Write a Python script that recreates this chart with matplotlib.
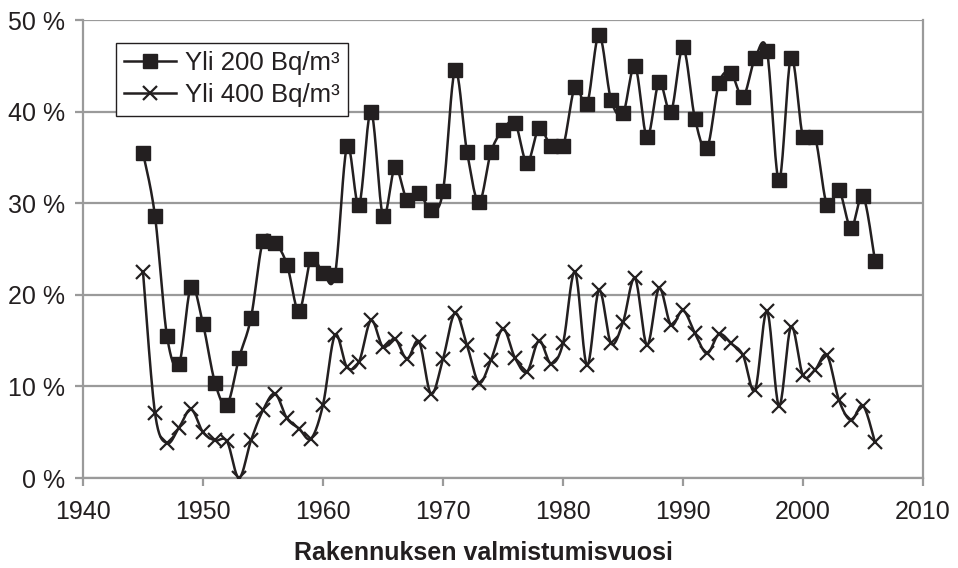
import numpy as np
import matplotlib
matplotlib.use("Agg")
import matplotlib.pyplot as plt
from matplotlib.lines import Line2D

years = list(range(1945, 2007))
over_200 = [35.5, 28.6, 15.5, 12.4, 20.9, 16.8, 10.4, 8.0, 13.1, 17.5,
            25.9, 25.7, 23.3, 18.2, 23.9, 22.4, 22.2, 36.2, 29.8, 40.0,
            28.6, 33.9, 30.4, 31.1, 29.3, 31.3, 44.5, 35.6, 30.1, 35.6,
            38.0, 38.8, 34.4, 38.2, 36.2, 36.2, 42.7, 40.8, 48.4, 41.3,
            39.8, 45.0, 37.2, 43.2, 40.0, 47.0, 39.2, 36.0, 43.1, 44.2,
            41.6, 45.8, 46.6, 32.5, 45.9, 37.2, 37.2, 29.8, 31.4, 27.3,
            30.8, 23.7]
over_400 = [22.5, 7.1, 3.8, 5.5, 7.5, 5.0, 4.1, 4.0, 0.0, 4.1,
            7.4, 9.2, 6.5, 5.4, 4.3, 8.0, 15.6, 12.1, 12.7, 17.2,
            14.3, 15.2, 13.0, 14.9, 9.2, 13.0, 18.0, 14.5, 10.4, 12.9,
            16.3, 13.1, 11.6, 15.0, 12.5, 14.7, 22.5, 12.3, 20.5, 14.7,
            17.0, 21.8, 14.5, 20.7, 16.7, 18.3, 15.8, 13.6, 15.7, 14.7,
            13.4, 9.6, 18.2, 7.9, 16.5, 11.2, 11.8, 13.4, 8.5, 6.3,
            7.9, 3.9]
yticks = [0, 10, 20, 30, 40, 50]
xticks = [1940, 1950, 1960, 1970, 1980, 1990, 2000, 2010]
labels = ["Yli 200 Bq/m³", "Yli 400 Bq/m³"]
xlabel = "Rakennuksen valmistumisvuosi"


def smooth(x, y, n=20):
    x = np.asarray(x, float)
    y = np.asarray(y, float)
    P = np.column_stack([x, y])
    Pp = np.vstack([P[0], P, P[-1]])
    t = np.linspace(0, 1, n, endpoint=False)[:, None]
    out = []
    for i in range(len(P) - 1):
        p0, p1, p2, p3 = Pp[i], Pp[i + 1], Pp[i + 2], Pp[i + 3]
        c1 = p1 + (p2 - p0) / 6.0
        c2 = p2 - (p3 - p1) / 6.0
        b = ((1 - t) ** 3) * p1 + 3 * ((1 - t) ** 2) * t * c1 + 3 * (1 - t) * t ** 2 * c2 + t ** 3 * p2
        out.append(b)
    out.append(P[-1][None, :])
    out = np.vstack(out)
    return out[:, 0], out[:, 1]


plt.rcParams['font.family'] = ['Liberation Sans', 'DejaVu Sans']
ink = '#231f20'
grey = '#9a9a9a'

fig = plt.figure(figsize=(9.58, 5.68), dpi=100)
ax = fig.add_axes([83 / 958, 1 - 478 / 568, (923 - 83) / 958, (478 - 20) / 568])

for vals, mk in [(over_200, 's'), (over_400, 'x')]:
    sx, sy = smooth(years, vals)
    ax.plot(sx, sy, color=ink, lw=1.8, zorder=3)
    if mk == 's':
        ax.plot(years, vals, ls='none', marker='s', ms=9.5, color=ink, zorder=4)
    else:
        ax.plot(years, vals, ls='none', marker='x', ms=10, mew=1.6, color=ink, zorder=4)

ax.set_xlim(1940, 2010)
ax.set_ylim(0, 50)
ax.set_xticks(xticks)
ax.set_yticks(yticks)
ax.set_yticklabels([f"{v} %" for v in yticks])
ax.yaxis.grid(True, color=grey, lw=1.6)
ax.set_axisbelow(True)
for s in ['left', 'bottom', 'right']:
    ax.spines[s].set_color(grey)
    ax.spines[s].set_linewidth(1.6)
ax.spines['top'].set_visible(False)
ax.tick_params(axis='both', colors=grey, length=6, width=1.6, labelsize=18,
               labelcolor=ink)
ax.tick_params(axis='y', pad=7)
ax.tick_params(axis='x', pad=10)

fig.text(0.505, 1 - 553 / 568, xlabel, ha='center', va='center',
         fontsize=18, fontweight='bold', color=ink)

handles = [Line2D([], [], color=ink, lw=1.8, marker='s', ms=9.5),
           Line2D([], [], color=ink, lw=1.8, marker='x', ms=10, mew=1.6)]
leg = ax.legend(handles, labels, loc='upper left', bbox_to_anchor=((116 - 83) / 840, (478 - 43) / 458),
                fontsize=18.5, frameon=True, fancybox=False, framealpha=1,
                edgecolor=ink, handlelength=2.0, handletextpad=0.35,
                borderpad=0.32, labelspacing=0.32, borderaxespad=0)
leg.get_frame().set_linewidth(1.0)
for t in leg.get_texts():
    t.set_color(ink)

fig.savefig('out.png', dpi=100)
